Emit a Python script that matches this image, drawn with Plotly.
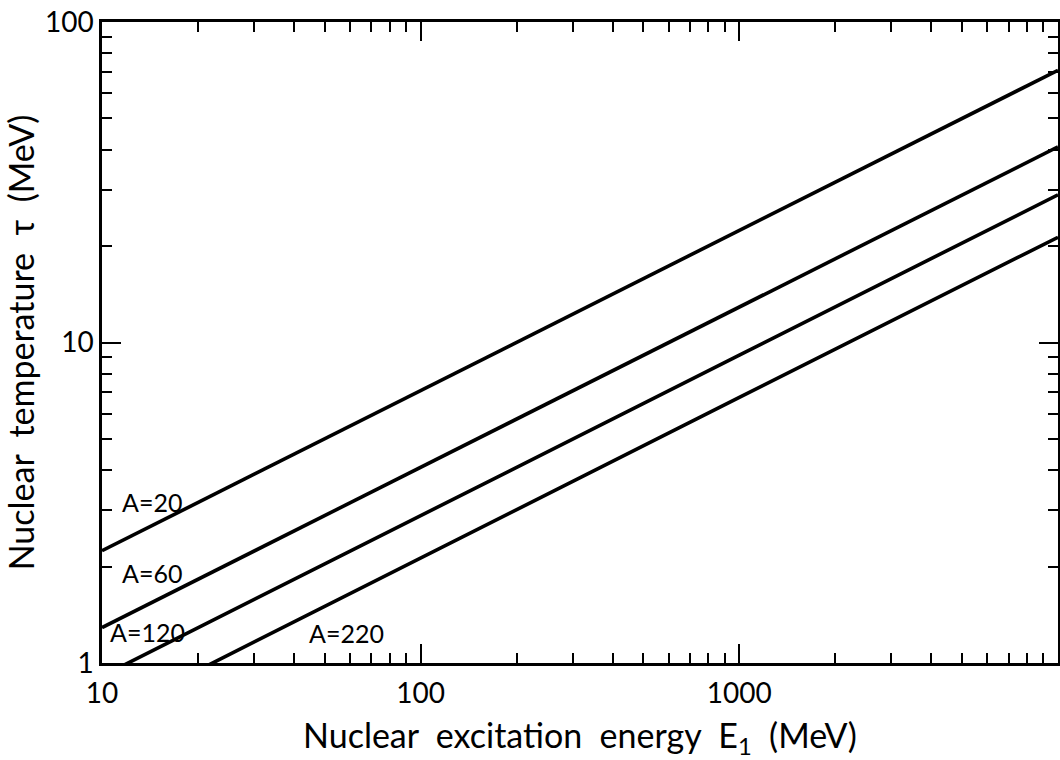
import plotly.graph_objects as go

# Excitation energy grid (MeV) and nuclear temperature (MeV) for each mass number
energy = [10, 100, 1000, 10000]
tau_a20 = [2.24, 7.07, 22.4, 70.7]
tau_a60 = [1.29, 4.08, 12.9, 40.8]
tau_a120 = [0.91, 2.89, 9.13, 28.9]
tau_a220 = [0.67, 2.13, 6.74, 21.3]

series = [
    ("A=20", tau_a20),
    ("A=60", tau_a60),
    ("A=120", tau_a120),
    ("A=220", tau_a220),
]

x_tickvals = [10, 100, 1000]
x_ticktext = ["10", "100", "1000"]
y_tickvals = [1, 10, 100]
y_ticktext = ["1", "10", "100"]

FONT = "Lato"

fig = go.Figure()
for name, tau in series:
    fig.add_trace(go.Scatter(
        x=energy, y=tau, mode="lines", name=name,
        line=dict(color="black", width=3.6),
        showlegend=False,
    ))

# curve labels (log10 coordinates on both axes)
labels = [
    ("A=20", 1.157, 0.502),
    ("A=60", 1.157, 0.281),
    ("A=120", 1.144, 0.097),
    ("A=220", 1.766, 0.094),
]
for text, lx, ly in labels:
    fig.add_annotation(
        x=lx, y=ly, text=text, showarrow=False,
        xanchor="center", yanchor="middle",
        font=dict(family=FONT, size=25, color="black"),
    )

axis_common = dict(
    type="log",
    showgrid=False,
    zeroline=False,
    showline=True,
    linecolor="black",
    linewidth=2.5,
    mirror="allticks",
    ticks="inside",
    ticklen=19,
    tickwidth=2,
    tickcolor="black",
    tickfont=dict(family=FONT, size=28, color="black"),
    minor=dict(ticks="inside", ticklen=10, tickwidth=1.8, tickcolor="black", dtick="D1"),
)

fig.update_xaxes(
    **axis_common,
    range=[1, 4],
    tickmode="array", tickvals=x_tickvals, ticktext=x_ticktext,
    ticklabelstandoff=4,
    title=dict(text="Nuclear\u00a0 excitation\u00a0 energy\u00a0 E<sub>1</sub>\u00a0 (MeV)",
               font=dict(family=FONT, size=34, color="black"), standoff=18),
)
fig.update_yaxes(
    **axis_common,
    range=[0, 2],
    tickmode="array", tickvals=y_tickvals, ticktext=y_ticktext,
    title=dict(text="Nuclear\u00a0 temperature\u00a0 \u03c4\u00a0 (MeV)",
               font=dict(family=FONT, size=34, color="black"), standoff=4),
)

fig.update_layout(
    width=1060, height=760,
    margin=dict(l=102, r=2, t=22, b=97, autoexpand=False),
    paper_bgcolor="white",
    plot_bgcolor="white",
)

fig.write_html("out.html")
